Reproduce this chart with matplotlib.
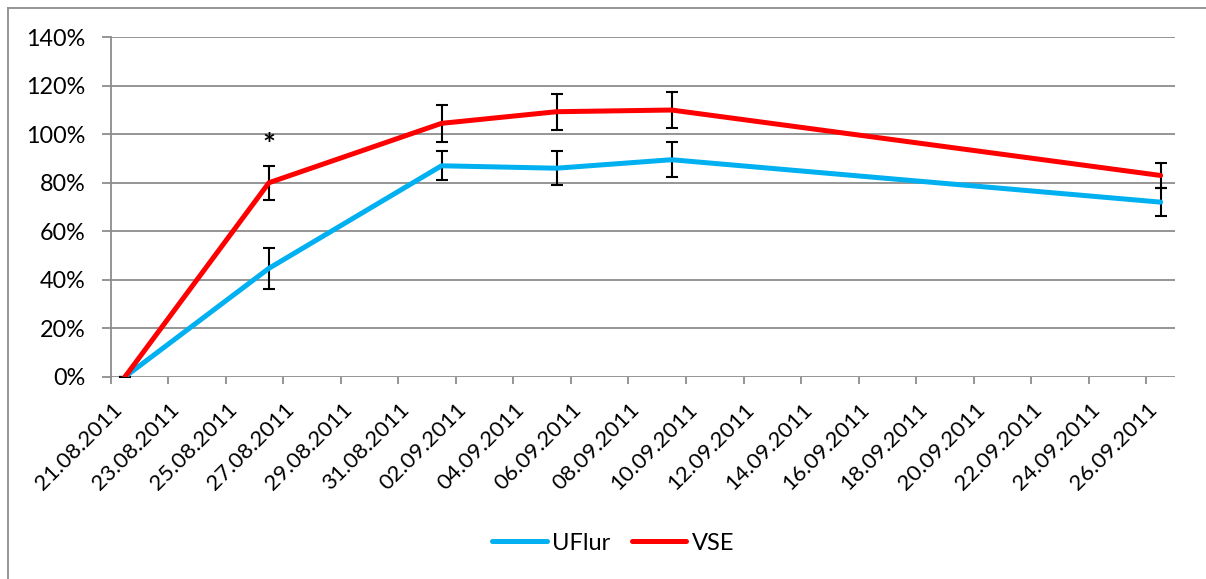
import numpy as np
import pandas as pd
import matplotlib
matplotlib.use("Agg")
import matplotlib.pyplot as plt
import matplotlib.dates as mdates
from matplotlib.transforms import ScaledTranslation
from matplotlib.lines import Line2D

plt.rcParams['font.family'] = ['Lato', 'DejaVu Sans']

# measurement days and values (%)
dates = ['2011-08-21', '2011-08-26', '2011-09-01', '2011-09-05', '2011-09-09', '2011-09-26']
uflur = [0, 44.7, 87.0, 86.0, 89.5, 72.0]
uflur_err = [0, 8.5, 6.0, 7.0, 7.3, 5.8]
vse = [0, 80.0, 104.5, 109.3, 110.0, 83.0]
vse_err = [0, 7.0, 7.5, 7.4, 7.3, 5.0]

# points sit in the middle of each day slot (Excel date axis)
x = pd.to_datetime(dates) + pd.Timedelta(hours=12)
ticks = pd.date_range('2011-08-21', '2011-09-26', freq='2D')

fig = plt.figure(figsize=(12.06, 5.79), dpi=100)
ax = fig.add_axes([0.0918, 0.3494, 0.9743 - 0.0918, 0.9356 - 0.3494])

blue = '#00B0F0'
red = '#FF0000'
grid = '#8C8C8C'

ax.errorbar(x, uflur, yerr=uflur_err, fmt='none', ecolor='black',
            elinewidth=1.5, capsize=4.3, capthick=1.5, zorder=2)
ax.errorbar(x, vse, yerr=vse_err, fmt='none', ecolor='black',
            elinewidth=1.5, capsize=4.3, capthick=1.5, zorder=2)
ax.plot(x, uflur, color=blue, lw=3.6, solid_capstyle='round', label='UFlur', zorder=3)
ax.plot(x, vse, color=red, lw=3.6, solid_capstyle='round', label='VSE', zorder=4)

ax.text(x[1], 91.5, '*', ha='center', va='baseline', fontsize=22, fontweight='bold')

ax.set_xlim(pd.Timestamp('2011-08-21'), pd.Timestamp('2011-09-27'))
ax.set_ylim(0, 140)
ax.set_yticks(np.arange(0, 141, 20))
ax.set_yticklabels([f'{v}%' for v in range(0, 141, 20)])
ax.set_xticks(ticks)
ax.xaxis.set_major_formatter(mdates.DateFormatter('%d.%m.%Y'))

ax.grid(axis='y', color=grid, lw=1.3)
ax.set_axisbelow(True)
for s in ['top', 'right', 'bottom']:
    ax.spines[s].set_visible(False)
ax.spines['left'].set_color(grid)
ax.spines['left'].set_linewidth(1.3)

ax.tick_params(axis='y', length=6.5, width=1.3, color=grid, pad=11.5, labelsize=16.8)
ax.tick_params(axis='x', length=5, width=1.3, color=grid, pad=11.5, labelsize=16)

shift = ScaledTranslation(0.15, 0, fig.dpi_scale_trans)
for lab in ax.get_xticklabels():
    lab.set_rotation(45)
    lab.set_ha('right')
    lab.set_va('top')
    lab.set_transform(lab.get_transform() + shift)

leg = fig.legend(loc='center', bbox_to_anchor=(613.5 / 1206, 36 / 579), ncol=2,
                 frameon=False, fontsize=17, handlelength=2.3, handletextpad=0.25,
                 columnspacing=0.9)

# outer chart border (cut off at right and bottom)
fig.add_artist(Line2D([8 / 1206, 8 / 1206], [0, 1 - 7.5 / 579], color=grid, lw=1.3))
fig.add_artist(Line2D([8 / 1206, 1], [1 - 7.5 / 579, 1 - 7.5 / 579], color=grid, lw=1.3))

fig.savefig('out.png', dpi=100)
